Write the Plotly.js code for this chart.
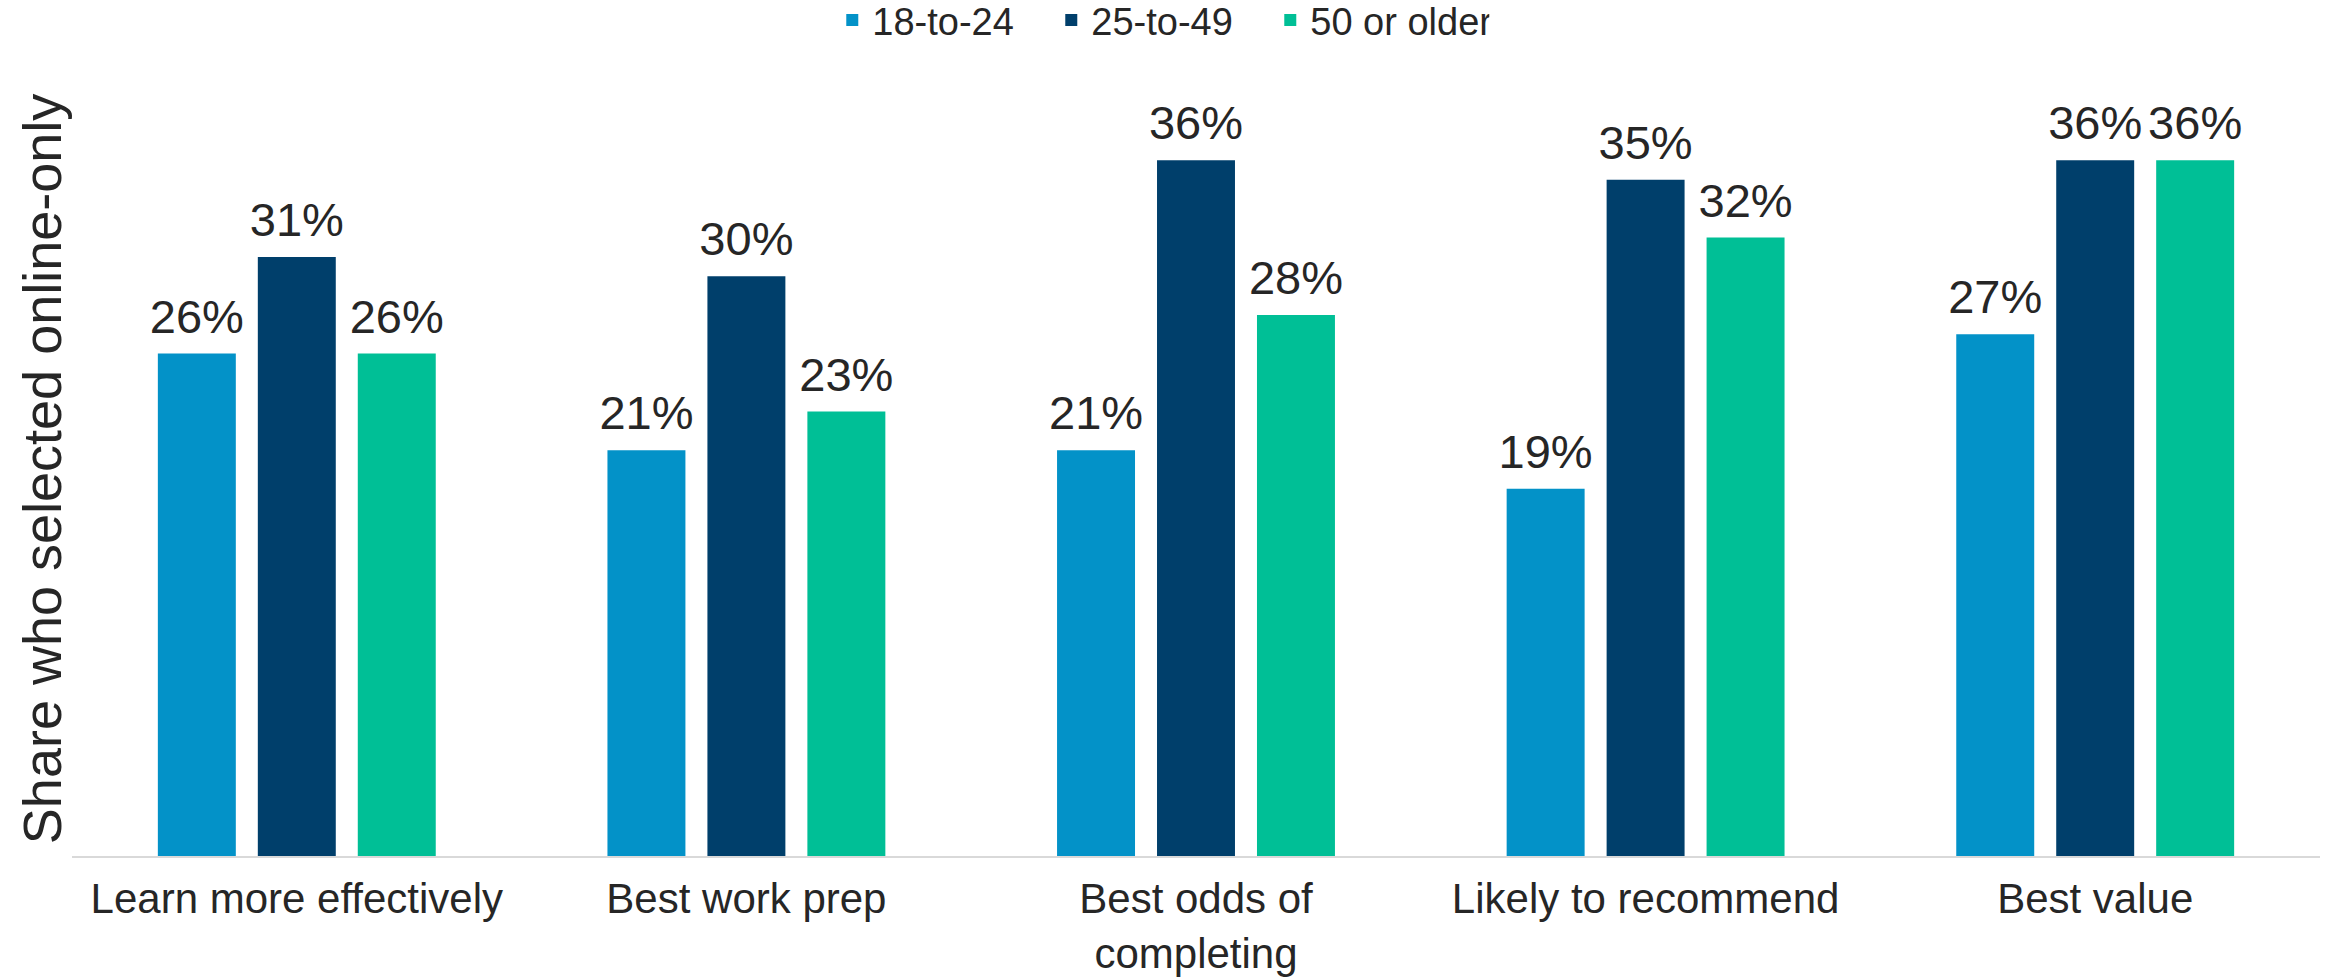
<!DOCTYPE html>
<html>
<head>
<meta charset="utf-8">
<script src="https://cdn.plot.ly/plotly-3.0.1.min.js"></script>
<style>
  html, body { margin: 0; padding: 0; background: #ffffff; }
  #chart { width: 2325px; height: 977px; }
</style>
</head>
<body>
<div id="chart"></div>
<script>
// Categories shown along the x-axis
const categories = [
  "Learn more effectively",
  "Best work prep",
  "Best odds of<br>completing",
  "Likely to recommend",
  "Best value"
];

// Age groups and their share (%) choosing online-only
const seriesNames = ["18-to-24", "25-to-49", "50 or older"];
const age18to24 = [26, 21, 21, 19, 27];
const age25to49 = [31, 30, 36, 35, 36];
const age50plus = [26, 23, 28, 32, 36];

const seriesValues = [age18to24, age25to49, age50plus];
const seriesColors = ["#0392c8", "#003f6b", "#00bf96"];

const FONT = "Liberation Sans, Arial, Helvetica, sans-serif";
const TEXT_COLOR = "#262626";

// Grouped bars, one trace per age group
const barTraces = seriesNames.map((name, i) => ({
  type: "bar",
  name: name,
  offsetgroup: "g" + i,
  x: categories,
  y: seriesValues[i],
  marker: { color: seriesColors[i], line: { width: 0 } },
  hoverinfo: "x+y+name"
}));

// Value labels sitting above each bar, grouped the same way as the bars
const labelTraces = seriesNames.map((name, i) => ({
  type: "scatter",
  mode: "markers+text",
  name: name + " labels",
  offsetgroup: "g" + i,
  x: categories,
  y: seriesValues[i],
  text: seriesValues[i].map(v => v + "%"),
  textposition: "top center",
  textfont: { family: FONT, size: 47, color: TEXT_COLOR },
  marker: { size: 13, color: "rgba(0,0,0,0)" },
  cliponaxis: false,
  showlegend: false,
  hoverinfo: "skip"
}));

const layout = {
  width: 2325,
  height: 977,
  margin: { l: 72, r: 5, t: 83, b: 121, pad: 0, autoexpand: false },
  paper_bgcolor: "#ffffff",
  plot_bgcolor: "#ffffff",
  font: { family: FONT, color: TEXT_COLOR },
  barmode: "group",
  scattermode: "group",
  bargap: 0.333,
  scattergap: 0.333,
  bargroupgap: 0.22,
  showlegend: true,
  legend: {
    orientation: "h",
    x: 0.3382,
    xanchor: "left",
    y: 1.122,
    yanchor: "top",
    entrywidth: 174,
    entrywidthmode: "pixels",
    font: { family: FONT, size: 38, color: TEXT_COLOR },
    bgcolor: "rgba(0,0,0,0)",
    borderwidth: 0
  },
  xaxis: {
    type: "category",
    showline: true,
    linecolor: "#d9d9d9",
    linewidth: 2,
    showgrid: false,
    zeroline: false,
    ticks: "",
    ticklabelstandoff: 5,
    tickfont: { family: FONT, size: 42, color: TEXT_COLOR },
    automargin: false,
    fixedrange: true
  },
  yaxis: {
    range: [0, 40],
    showline: false,
    showgrid: false,
    zeroline: false,
    showticklabels: false,
    ticks: "",
    automargin: false,
    fixedrange: true
  },
  annotations: [{
    text: "Share who selected online-only",
    xref: "paper",
    yref: "paper",
    x: -0.0135,
    y: 0.5,
    xanchor: "center",
    yanchor: "middle",
    textangle: -90,
    showarrow: false,
    font: { family: FONT, size: 54, color: TEXT_COLOR }
  }]
};

Plotly.newPlot("chart", barTraces.concat(labelTraces), layout, { displayModeBar: false, staticPlot: true });
</script>
</body>
</html>
